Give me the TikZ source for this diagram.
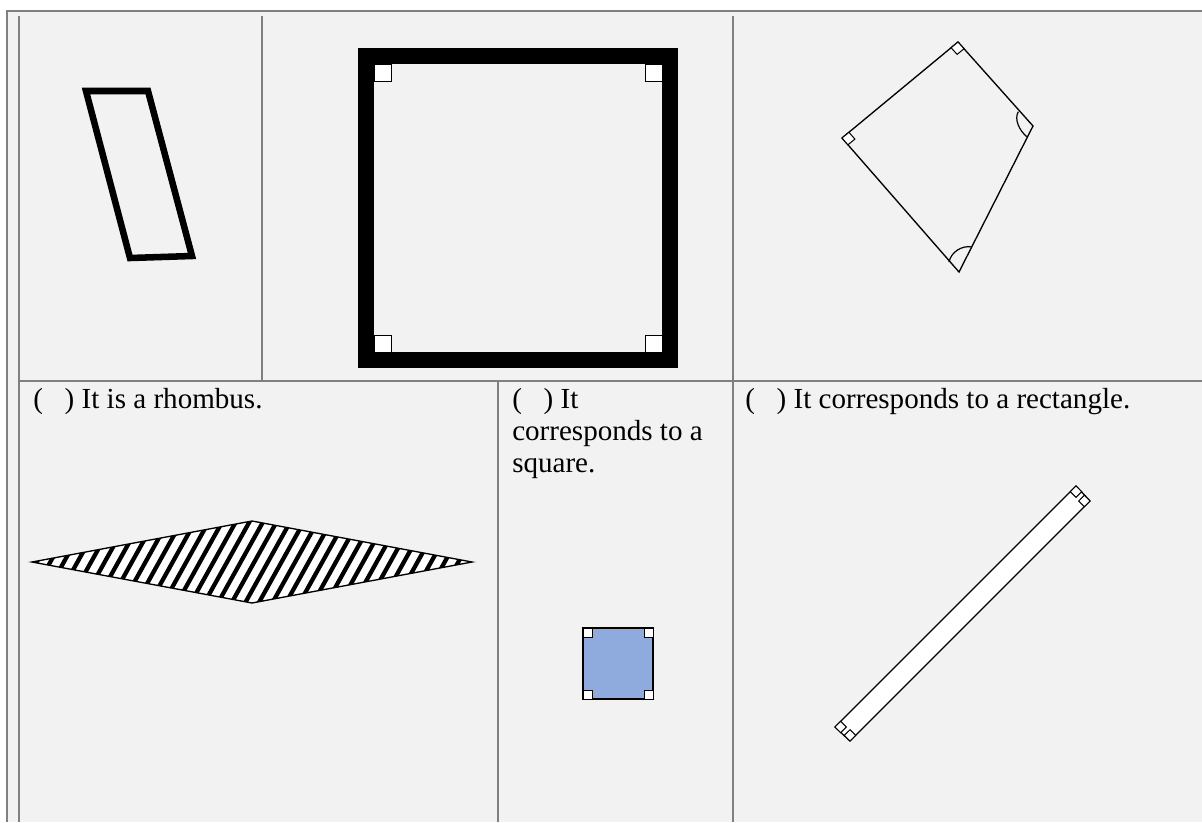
\documentclass[tikz,border=0pt]{standalone}
\usepackage{fontspec}
\setmainfont{Liberation Serif}
\usetikzlibrary{calc}

\definecolor{cellgray}{HTML}{F2F2F2}
\definecolor{gridgray}{HTML}{808080}
\definecolor{sqblue}{HTML}{8FAADC}

\tikzset{
  grid/.style={draw=gridgray, line width=1.5pt},
  rmark/.style={draw=black, fill=white, line width=0.75pt},
  thinfig/.style={draw=black, line width=1pt, line join=miter},
  cell/.style={anchor=base west, inner sep=0pt, align=left,
    font=\fontsize{21.8}{24}\selectfont}
}

\begin{document}
\begin{tikzpicture}[x=0.75pt,y=-0.75pt]
\useasboundingbox (0,0) rectangle (1202,822);
\fill[white] (0,0) rectangle (1202,822);
\fill[cellgray] (7,11) rectangle (1202,822);
%----table lines-------------------------------
\draw[grid] (7,822) -- (7,11) -- (1202,11);
\draw[grid] (19,16) -- (19,822);
\draw[grid] (262,16) -- (262,381);
\draw[grid] (733,16) -- (733,822);
\draw[grid] (19,381) -- (1202,381);
\draw[grid] (498,381) -- (498,822);
%----parallelogram-----------------------------
\coordinate (pA) at (86,91);
\coordinate (pB) at (148,91);
\coordinate (pC) at (192,256);
\coordinate (pD) at (130,258);
\draw[line width=4.9pt, line join=miter] (pA) -- (pB) -- (pC) -- (pD) -- cycle;
%----thick square------------------------------
\draw[line width=12pt, line join=miter] (366,56) rectangle (670,360);
\draw[rmark] (374,64) rectangle (391,81);
\draw[rmark] (645,64) rectangle (662,81);
\draw[rmark] (374,335) rectangle (391,352);
\draw[rmark] (645,335) rectangle (662,352);
%----kite--------------------------------------
\coordinate (kT) at (958,42);
\coordinate (kR) at (1033,126);
\coordinate (kB) at (959,272);
\coordinate (kL) at (842,138);
\draw[thinfig] (kT) -- (kR) -- (kB) -- (kL) -- cycle;
\draw[rmark] (kL) -- (848.9,132.3) -- (854.9,139.1) -- (847.9,144.8) -- cycle;
\draw[rmark] (kT) -- (951.1,47.7) -- (957.1,54.4) -- (964.0,48.7) -- cycle;
\draw[line width=0.9pt] (1018.3,111.7) .. controls (1014,119) and (1019,130) .. (1026.7,136.7);
\draw[line width=0.9pt] (949,262) .. controls (951,252) and (962,245) .. (972,247);
%----rhombus-----------------------------------
\coordinate (rL) at (32,562);
\coordinate (rT) at (252,521);
\coordinate (rR) at (472,562);
\coordinate (rB) at (252,603);
\begin{scope}
\clip (rL) -- (rT) -- (rR) -- (rB) -- cycle;
\fill[white] (rL) -- (rT) -- (rR) -- (rB) -- cycle;
\foreach \k in {0,...,37}
  \draw[line width=3.2pt] ({\k*13.6-15},606) -- ++(49,-88);
\end{scope}
\draw[thinfig] (rL) -- (rT) -- (rR) -- (rB) -- cycle;
%----blue square-------------------------------
\draw[fill=sqblue, line width=1.1pt] (583,628) rectangle (653,699);
\draw[rmark] (583,628) rectangle (592,637);
\draw[rmark] (644,628) rectangle (653,637);
\draw[rmark] (583,690) rectangle (592,699);
\draw[rmark] (644,690) rectangle (653,699);
%----long rectangle----------------------------
\coordinate (lA) at (835,727);
\coordinate (lB) at (1076,486);
\coordinate (lC) at (1090,501);
\coordinate (lD) at (850,741);
\draw[thinfig, fill=white] (lA) -- (lB) -- (lC) -- (lD) -- cycle;
\draw[rmark] (lB) -- (1081.7,491.7) -- (1076,497.3) -- (1070.3,491.7) -- cycle;
\draw[rmark] (lC) -- (1084.3,495.3) -- (1078.7,501) -- (1084.3,506.7) -- cycle;
\draw[rmark] (lA) -- (840.7,721.3) -- (846.3,727) -- (840.7,732.7) -- cycle;
\draw[rmark] (lD) -- (844.3,735.3) -- (850,729.7) -- (855.7,735.3) -- cycle;
%----text--------------------------------------
\node[cell] (rhomtxt) at (33,408) {(\hspace{0.75em}) It is a rhombus.};
\node[cell] (sqtxt) at (512,472) {(\hspace{0.75em}) It\\corresponds to a\\square.};
\node[cell] (recttxt) at (745,408) {(\hspace{0.75em}) It corresponds to a rectangle.};
\end{tikzpicture}
\end{document}
